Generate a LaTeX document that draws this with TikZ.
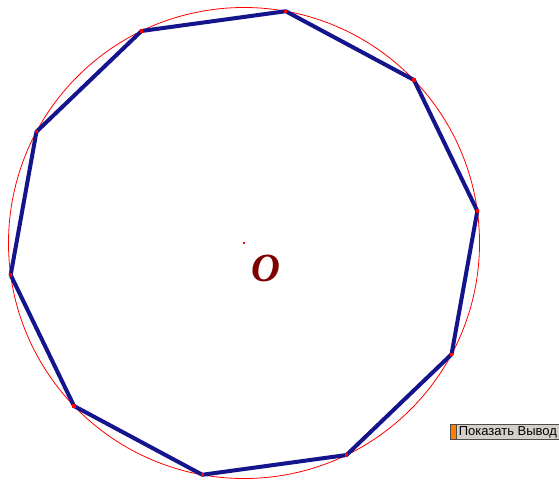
\documentclass[tikz,border=0pt]{standalone}
\usepackage{fontspec}
\setmainfont{Liberation Serif}
\newfontfamily\btnfont{Liberation Sans}
\usetikzlibrary{positioning,calc}
\definecolor{polyblue}{RGB}{20,20,140}
\definecolor{labelred}{RGB}{128,0,0}
\definecolor{btngray}{RGB}{212,208,200}
\definecolor{btnorange}{RGB}{255,128,0}
\tikzset{
  circ/.style={draw=red, line width=0.8pt},
  side/.style={draw=polyblue, line width=4pt, line join=round},
  vdot/.style={fill=red, inner sep=0pt, minimum size=3.4pt, rectangle},
  lbl/.style={text=labelred, font=\fontsize{40}{40}\selectfont\bfseries\itshape},
  btn/.style={rectangle, draw=black!70, fill=btngray, line width=0.8pt, font=\btnfont\fontsize{13}{13}\selectfont, inner sep=2pt, minimum height=15pt, anchor=west},
  strip/.style={rectangle, fill=btnorange, draw=black!70, line width=0.8pt, minimum width=6pt, minimum height=15pt, inner sep=0pt}
}
\begin{document}
\begin{tikzpicture}[x=1pt,y=-1pt]
\useasboundingbox[fill=white] (0,0) rectangle (559,479);
\coordinate (O) at (244,243);
\draw[circ] (O) circle[radius=235.5];
% vertices of the decagon
\foreach \i in {1,...,10}
  \coordinate (v\i) at ($(O)+({79.8-36*(\i-1)}:235.5pt)$);
\draw[side] (v1) \foreach \i in {2,...,10}{ -- (v\i)} -- cycle;
\foreach \i in {1,...,10}
  \node[vdot] at (v\i) {};
\node[vdot, minimum size=2.4pt] (cen) at (O) {};
\node[lbl] (olbl) at (266,268) {O};
% button
\node[strip] (bstrip) at (453,432) {};
\node[btn, right=0pt of bstrip.east, anchor=west] (bshow) {Показать Вывод\hspace{20pt}};
\end{tikzpicture}
\end{document}
